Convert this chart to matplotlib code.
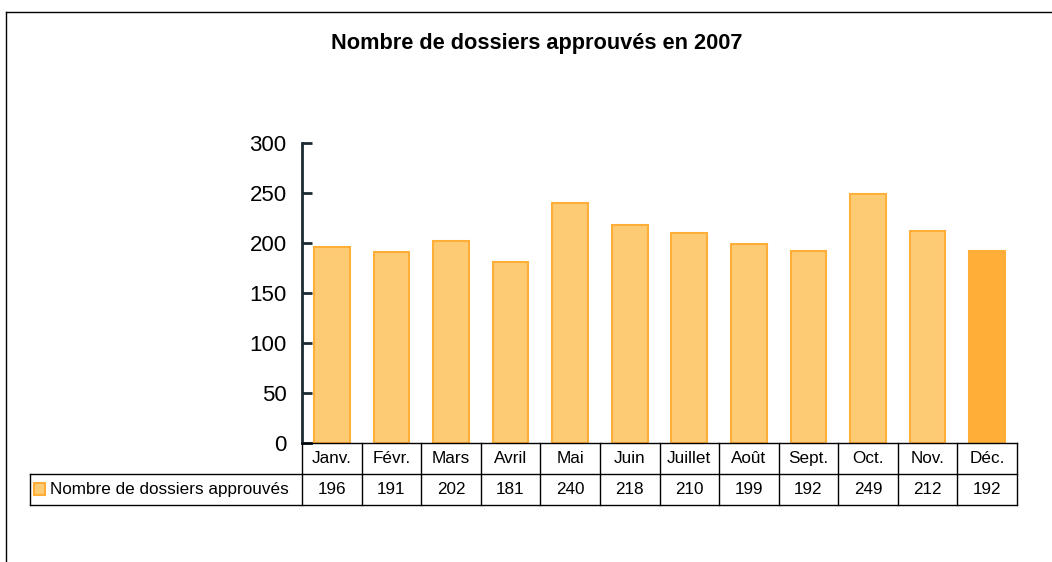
import matplotlib.pyplot as plt
from matplotlib.patches import Rectangle
from matplotlib.lines import Line2D

plt.rcParams['font.family'] = ['Liberation Sans', 'DejaVu Sans']

mois = ['Janv.', 'Févr.', 'Mars', 'Avril', 'Mai', 'Juin', 'Juillet', 'Août',
        'Sept.', 'Oct.', 'Nov.', 'Déc.']
dossiers = [196, 191, 202, 181, 240, 218, 210, 199, 192, 249, 212, 192]
serie = 'Nombre de dossiers approuvés'
titre = 'Nombre de dossiers approuvés en 2007'

W, H = 1052, 562
fig = plt.figure(figsize=(W / 100, H / 100), dpi=100)

# cadre autour du graphique (haut et gauche seulement visibles)
fig.add_artist(Line2D([6 / W, 6 / W], [0, 1 - 12 / H], color='black', lw=1))
fig.add_artist(Line2D([6 / W, 1], [1 - 12 / H, 1 - 12 / H], color='black', lw=1))

fig.text(537 / W, 1 - 43 / H, titre, ha='center', va='center',
         fontsize=15.7, fontweight='bold')

# zone du graphique
x0, x1 = 302, 1017
y0, y1 = 443, 143
ax = fig.add_axes([x0 / W, (H - y0) / H, (x1 - x0) / W, (y0 - y1) / H])

clair = '#FDCB74'
fonce = '#FFAE38'
bord = '#FFAE38'
n = len(mois)
couleurs = [clair] * (n - 1) + [fonce]
pos = [i + 0.5 for i in range(n)]
ax.bar(pos, dossiers, width=0.6, color=couleurs, edgecolor=bord, linewidth=1.5)

ax.set_xlim(0, n)
ax.set_ylim(0, 300)
ax.set_yticks(range(0, 301, 50))
ax.set_xticks([])
for s in ['top', 'right', 'bottom']:
    ax.spines[s].set_visible(False)
ax.spines['left'].set_color('#1b2a33')
ax.spines['left'].set_linewidth(2)
ax.tick_params(axis='y', direction='in', length=7, width=2, color='#1b2a33',
               labelsize=16, pad=11)
ax.plot([0, 0.15], [0, 0], color='#1b2a33', lw=2, clip_on=False)

# tableau de données sous le graphique
col_w = (x1 - x0) / n
leg_w = (x0 - 30) / col_w
ty0, ty1 = 443, 505
tab = fig.add_axes([30 / W, (H - ty1) / H, (x1 - 30) / W, (ty1 - ty0) / H])
tab.set_xlim(-leg_w, n)
tab.set_ylim(0, 2)
tab.axis('off')

lc = 'black'
lw = 1
tab.plot([0, n], [2, 2], color=lc, lw=lw, clip_on=False)
tab.plot([-leg_w, n], [1, 1], color=lc, lw=lw, clip_on=False)
tab.plot([-leg_w, n], [0, 0], color=lc, lw=lw, clip_on=False)
tab.plot([-leg_w, -leg_w], [0, 1], color=lc, lw=lw, clip_on=False)
for i in range(n + 1):
    tab.plot([i, i], [0, 2], color=lc, lw=lw, clip_on=False)

for i, (m, v) in enumerate(zip(mois, dossiers)):
    tab.text(i + 0.5, 1.5, m, ha='center', va='center', fontsize=12.3)
    tab.text(i + 0.5, 0.5, str(v), ha='center', va='center', fontsize=12.3)

tab.add_patch(Rectangle((-leg_w + 0.06, 0.32), 0.19, 0.38, facecolor=clair,
                        edgecolor=bord, lw=1.5, clip_on=False))
tab.text(-leg_w + 0.33, 0.5, serie, ha='left', va='center', fontsize=12.3)

fig.savefig('out.png', dpi=100)
